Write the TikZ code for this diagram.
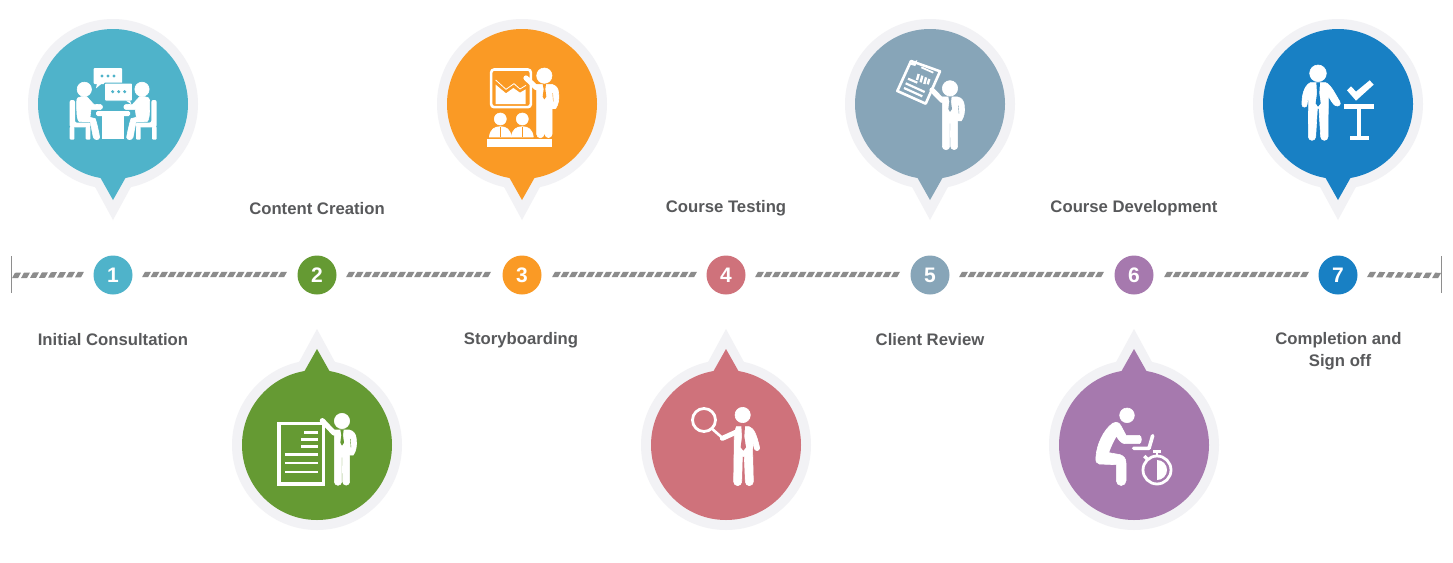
\documentclass[tikz,border=0pt]{standalone}
\usepackage{fontspec}
\setmainfont{Liberation Sans}
\usetikzlibrary{decorations.markings}
\definecolor{haloGrey}{HTML}{F2F2F5}
\definecolor{hatchGrey}{HTML}{8C8C8C}
\definecolor{tickGrey}{HTML}{8E8E8E}
\definecolor{labelGrey}{HTML}{58595B}
\definecolor{cTeal}{HTML}{4FB3CA}
\definecolor{cGreen}{HTML}{659A33}
\definecolor{cOrange}{HTML}{FA9A25}
\definecolor{cRose}{HTML}{CF727B}
\definecolor{cSlate}{HTML}{87A5B8}
\definecolor{cPurple}{HTML}{A679AE}
\definecolor{cBlue}{HTML}{1880C4}
\tikzset{
  numdot/.style={circle,inner sep=0pt,minimum size=39pt,text=white,font=\fontsize{21}{21}\selectfont\bfseries},
  steplabel/.style={text=labelGrey,align=center,inner sep=0pt,font=\fontsize{16.7}{22}\selectfont\bfseries},
  pinface/.style={circle,inner sep=0pt,minimum size=150pt},
  hatchline/.style={decorate,decoration={markings,
    mark=between positions 0 and -8.5pt step #1 with {
      \fill[hatchGrey] (0,2.7) -- (6,2.7) -- (9,-2.7) -- (3,-2.7) -- cycle;}}},
  hatchline/.default=8.5pt,
  stroke/.style={draw=white,line cap=round,line join=round,line width=#1},
  flatstroke/.style={draw=white,line cap=butt,line join=miter,line width=#1},
  solidshape/.style={fill=white,draw=white,line width=0.6pt,line join=round},
  icon/.style={shift={#1},scale=0.33333},
}
% Balloon marker: name, x, y, colour, tip direction (1 down, -1 up)
\newcommand{\pinmarker}[5]{%
  \begin{scope}[shift={(#2,#3)},yscale=#5]
    \fill[haloGrey] (0,0) circle (85);
    \fill[haloGrey] (-19,81) -- (0,116) -- (19,81) -- cycle;
    \fill[#4] (-13,73) -- (0,96) -- (13,73) -- cycle;
  \end{scope}
  \node[pinface,fill=#4] (#1) at (#2,#3) {};
}
% Standing figure with one hand on the hip:
% head x, head y, tie colour, hand x, hand y, vertical stretch of the body
\newcommand{\hipfigure}[6]{%
  \draw[stroke=5.2pt] (#1-24,#2+36) -- (#4,#5);
  \begin{scope}[shift={(#1,#2)}]
    \path[solidshape] (0,0) circle (23);
    \begin{scope}[yscale=#6]
    \path[solidshape] (-23,27) -- (22,27) .. controls (36,30) and (42,40) .. (43,55)
      .. controls (45,75) and (42,90) .. (34,102) -- (23,102) -- (23,182)
      arc[start angle=0,end angle=180,radius=10.5] -- (1,110) -- (-1,110) -- (-1,182)
      arc[start angle=0,end angle=180,radius=11] -- cycle;
    \fill[#3] (-5,26) -- (5,26) -- (3,42) -- (6,65) -- (0,74) -- (-5,65) -- (-2,42) -- cycle;
    \draw[#3,line width=0.4pt] (25,54) -- (27,80);
    \end{scope}
  \end{scope}
}
% Seated person with chair, used on both sides of the meeting table
\newcommand{\meetingperson}{%
  \path[solidshape] (193,238) circle (21.5);
  \path[solidshape] (170,275) .. controls (170,264) and (176,260) .. (185,260) -- (200,260)
    -- (222,284) -- (240,283) .. controls (250,285) and (250,297) .. (240,299)
    -- (213,299) -- (210,322) -- (226,326) .. controls (232,345) and (236,365) .. (239,382)
    .. controls (238,391) and (223,391) .. (220,382) -- (211,336) -- (178,335)
    .. controls (172,330) and (170,320) .. (170,275) -- cycle;
  \fill[white,rounded corners=2pt] (149,352) -- (149,270) -- (165,270) -- (165,338) -- (212,338) -- (212,352) -- cycle;
  \fill[white,rounded corners=1pt] (149,350) rectangle (163,389);
  \fill[white,rounded corners=1pt] (197,350) rectangle (211,389);
}
\begin{document}
\begin{tikzpicture}[x=1pt,y=-1pt]
\useasboundingbox (0,0) rectangle (1453,562);
\fill[white] (0,0) rectangle (1453,562);

% Timeline ticks and hatched segments
\coordinate (lineStart) at (12,275.5);
\coordinate (lineEnd) at (1441,275.5);
\draw[tickGrey,line width=0.9pt] (11.6,256) -- (11.6,293);
\draw[tickGrey,line width=0.9pt] (1441.4,256) -- (1441.4,293);

% Numbered stops
\node[numdot,fill=cTeal]   (n1) at (113,275) {1};
\node[numdot,fill=cGreen]  (n2) at (317,275) {2};
\node[numdot,fill=cOrange] (n3) at (522,275) {3};
\node[numdot,fill=cRose]   (n4) at (726,275) {4};
\node[numdot,fill=cSlate]  (n5) at (930,275) {5};
\node[numdot,fill=cPurple] (n6) at (1134,275) {6};
\node[numdot,fill=cBlue]   (n7) at (1338,275) {7};

\path[hatchline=9pt] (lineStart) -- ([xshift=-29pt,yshift=0.5pt]n1.center);
\path[hatchline] ([xshift=29pt,yshift=0.5pt]n1.center) -- ([xshift=-29pt,yshift=0.5pt]n2.center);
\path[hatchline] ([xshift=29pt,yshift=0.5pt]n2.center) -- ([xshift=-29pt,yshift=0.5pt]n3.center);
\path[hatchline] ([xshift=30pt,yshift=0.5pt]n3.center) -- ([xshift=-29pt,yshift=0.5pt]n4.center);
\path[hatchline] ([xshift=29pt,yshift=0.5pt]n4.center) -- ([xshift=-29pt,yshift=0.5pt]n5.center);
\path[hatchline] ([xshift=29pt,yshift=0.5pt]n5.center) -- ([xshift=-29pt,yshift=0.5pt]n6.center);
\path[hatchline] ([xshift=30pt,yshift=0.5pt]n6.center) -- ([xshift=-29pt,yshift=0.5pt]n7.center);
\path[hatchline=9.3pt] ([xshift=29pt,yshift=0.5pt]n7.center) -- (lineEnd);

% Step labels
\node[steplabel] (t1) at (113,340) {Initial Consultation};
\node[steplabel] (t2) at (317,209) {Content Creation};
\node[steplabel] (t3) at (521,340.5) {Storyboarding};
\node[steplabel] (t4) at (726,208) {Course Testing};
\node[steplabel] (t5) at (930,340) {Client Review};
\node[steplabel] (t6) at (1134,208) {Course Development};
\node[steplabel] (t7) at (1338.5,351.5) {Completion and\\ \hspace*{3pt}Sign off};

% Balloon markers
\pinmarker{p1}{113}{104}{cTeal}{1}
\pinmarker{p2}{317}{445}{cGreen}{-1}
\pinmarker{p3}{522}{104}{cOrange}{1}
\pinmarker{p4}{726}{445}{cRose}{-1}
\pinmarker{p5}{930}{104}{cSlate}{1}
\pinmarker{p6}{1134}{445}{cPurple}{-1}
\pinmarker{p7}{1338}{104}{cBlue}{1}

% Meeting icon
\begin{scope}[icon={(20,10)}]
  \meetingperson
  \begin{scope}[shift={(559,0)},xscale=-1]
    \meetingperson
  \end{scope}
  \fill[white,rounded corners=1.5pt] (228,303) rectangle (330,318);
  \fill[white] (245,312) rectangle (313,386);
  \fill[white,rounded corners=1pt] (221,174) rectangle (306,222);
  \fill[white] (231,220) -- (228,235) -- (246,220) -- cycle;
  \foreach \dx in {246,264,282} \fill[cTeal] (\dx,198) circle (5);
  \draw[cTeal,line width=1pt,fill=white,rounded corners=1pt] (253,219) rectangle (338,273);
  \fill[white] (318,272) -- (334,283) -- (330,272) -- cycle;
  \foreach \dx in {278,296,314} \fill[cTeal] (\dx,245) circle (5);
\end{scope}

% Document and presenter icon
\begin{scope}[icon={(225,320)}]
  \draw[flatstroke=3.5pt] (161.5,310.5) rectangle (295,491.5);
  \foreach \xa/\ya in {238/338,228/358,228/379,180/404,180/429,180/456}
    \draw[flatstroke=2.8pt] (\xa,\ya) -- (278,\ya);
  \hipfigure{351}{303}{cGreen}{292}{302}{1}
\end{scope}

% Chart presentation icon
\begin{scope}[icon={(430,10)}]
  \draw[flatstroke=2.6pt,rounded corners=3pt] (183.5,178.5) rectangle (302.5,291.5);
  \fill[white] (197,224) -- (228,250) -- (250,234) -- (270,248) -- (287,238) -- (287,282) -- (197,282) -- cycle;
  \draw[white,line width=0.8pt] (197,210) -- (228,238) -- (252,221) -- (270,237) -- (288,226);
  \hipfigure{343}{197}{cOrange}{288}{204}{0.965}
  \foreach \hx in {211,277}{
    \path[solidshape] (\hx,327) circle (18);
    \path[solidshape] (\hx-33,381) .. controls (\hx-30,358) and (\hx-18,350) .. (\hx,350)
      .. controls (\hx+18,350) and (\hx+30,358) .. (\hx+33,381) -- cycle;
    \draw[cOrange,line width=0.6pt] (\hx,350) -- (\hx,381);
  }
  \fill[white] (171,387) rectangle (365,411);
\end{scope}

% Magnifying glass icon
\begin{scope}[icon={(635,320)}]
  \draw[draw=white,line width=2.8pt] (207,300) circle (34.5);
  \draw[stroke=2.6pt] (233,328) -- (258,350);
  \draw[stroke=5pt] (262,355) -- (302,337);
  \path[solidshape] (323,285) circle (23);
  \path[solidshape] (304,320) -- (342,320) .. controls (356,325) and (364,340) .. (374,384)
    .. controls (372,394) and (362,394) .. (358,386) -- (352,360) -- (355,485)
    arc[start angle=0,end angle=180,radius=12] -- (328,410) -- (322,410) -- (320,485)
    arc[start angle=0,end angle=180,radius=12] -- (298,340) -- cycle;
  \fill[cRose] (319,318) -- (330,318) -- (328,350) -- (333,382) -- (325,392) -- (317,382) -- (321,350) -- cycle;
\end{scope}

% Report review icon
\begin{scope}[icon={(840,10)}]
  \draw[flatstroke=2.6pt,line join=round] (213,153) -- (300,184) -- (257,281) -- (172,243) -- cycle;
  \fill[white] (207,163) -- (232,150) -- (226,168) -- cycle;
  \draw[flatstroke=2.2pt] (192,234) -- (247,259);
  \draw[flatstroke=2.2pt] (197,220) -- (254,246);
  \draw[flatstroke=2.2pt] (204,206) -- (232,218);
  \draw[flatstroke=1.8pt] (244,172) -- (280,188);
  \foreach \bx/\by/\bh in {236/192/18,247/197/20,258/202/20,268/207/16}
    \draw[flatstroke=2.4pt] (\bx,\by) -- ++(-5,\bh);
  \hipfigure{330}{235}{cSlate}{276}{240}{0.955}
\end{scope}

% Seated worker with stopwatch icon
\begin{scope}[icon={(1040,320)}]
  \path[solidshape] (261,286) circle (22);
  \path[solidshape] (218,310) .. controls (230,304) and (238,308) .. (243,318)
    -- (258,346) -- (298,346) .. controls (306,347) and (306,370) .. (298,371)
    -- (255,371) .. controls (245,371) and (236,360) .. (229,348)
    .. controls (220,365) and (212,380) .. (206,398)
    -- (240,404) .. controls (252,408) and (258,416) .. (258,430) -- (258,482)
    arc[start angle=0,end angle=180,radius=14.5] -- (229,434)
    -- (178,432) .. controls (170,432) and (166,424) .. (168,410)
    .. controls (170,375) and (190,330) .. (218,310) -- cycle;
  \draw[stroke=3.6pt] (281,385) -- (327,385) -- (338,347);
  \draw[draw=white,line width=2.8pt] (351,450) circle (42);
  \fill[white] (351,420) arc[start angle=-90,end angle=90,radius=30] -- cycle;
  \fill[white] (340,389) rectangle (362,399);
  \draw[flatstroke=2.6pt] (351,398) -- (351,410);
  \draw[flatstroke=3.4pt] (313,408) -- (323,418);
\end{scope}

% Sign-off icon
\begin{scope}[icon={(1245,10)}]
  \path[solidshape] (219,190) circle (25);
  \path[solidshape] (196,218) -- (242,218) .. controls (258,224) and (272,255) .. (284,274)
    .. controls (290,284) and (280,292) .. (270,286) .. controls (262,280) and (256,268) .. (250,258)
    -- (249,380) arc[start angle=0,end angle=180,radius=11] -- (222,296) -- (217,296) -- (212,380)
    arc[start angle=0,end angle=180,radius=11] -- (191,252) -- (186,284)
    arc[start angle=0,end angle=180,radius=7.5] .. controls (170,260) and (176,228) .. (196,218) -- cycle;
  \fill[cBlue] (214,217) -- (225,217) -- (223,250) -- (227,280) -- (219,290) -- (212,280) -- (216,250) -- cycle;
  \fill[white] (297,282) rectangle (387,298);
  \fill[white] (335,298) rectangle (349,378);
  \fill[white] (314,377) rectangle (371,390);
  \fill[white] (306,241) -- (318,229) -- (333,245) -- (374,211) -- (386,224) -- (333,272) -- cycle;
\end{scope}
\end{tikzpicture}
\end{document}
